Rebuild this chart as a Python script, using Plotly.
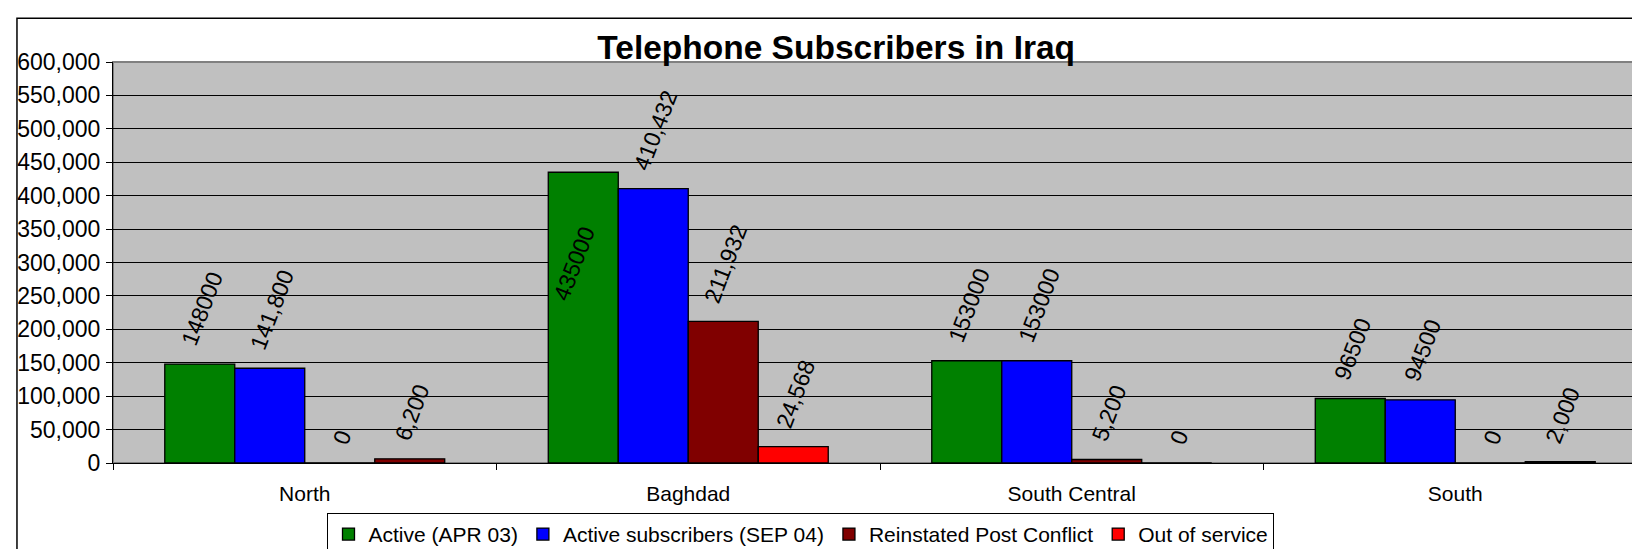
import plotly.graph_objects as go

regions = ["North", "Baghdad", "South Central", "South"]

active_apr03 = [148000, 435000, 153000, 96500]
active_sep04 = [141800, 410432, 153000, 94500]
reinstated = [0, 211932, 5200, 0]
out_of_service = [6200, 24568, 0, 2000]

labels_apr03 = ["148000", "435000", "153000", "96500"]
labels_sep04 = ["141,800", "410,432", "153000", "94500"]
labels_reinstated = ["0", "211,932", "5,200", "0"]
labels_out = ["6,200", "24,568", "0", "2,000"]

# per-point fill colours (the small North / South out-of-service bars are dark red)
colors_apr03 = ["#008000"] * 4
colors_sep04 = ["#0000FF"] * 4
colors_reinstated = ["#800000"] * 4
colors_out = ["#800000", "#FF0000", "#FF0000", "#800000"]

series = [
    ("Active (APR 03)", active_apr03, labels_apr03, colors_apr03, "#008000"),
    ("Active subscribers (SEP 04)", active_sep04, labels_sep04, colors_sep04, "#0000FF"),
    ("Reinstated Post Conflict", reinstated, labels_reinstated, colors_reinstated, "#800000"),
    ("Out of service", out_of_service, labels_out, colors_out, "#FF0000"),
]

FONT = "Liberation Sans, Arial, sans-serif"
NB = "\u00a0"
OUT_TPL = NB * 2 + "%{text}"
IN_TPL = "%{text}" + NB * 8

fig = go.Figure()
for i, (name, vals, labs, cols, legcol) in enumerate(series):
    tp = ["outside"] * len(vals)
    tpl = [OUT_TPL] * len(vals)
    if i == 0:
        tp[1] = "inside"
        tpl[1] = IN_TPL
    fig.add_trace(go.Bar(
        name=name, x=regions, y=vals, text=labs,
        texttemplate=tpl, offsetgroup=str(i), legendrank=i + 1,
        showlegend=False,
        textposition=tp, textangle=-69,
        insidetextanchor="end",
        constraintext="none", cliponaxis=False,
        textfont=dict(family=FONT, size=23, color="#000000"),
        marker=dict(color=cols, line=dict(color="#000000", width=1.3)),
        hoverinfo="skip",
    ))
    # legend entry with the series colour
    fig.add_trace(go.Bar(
        name=name, x=[regions[0]], y=[None], offsetgroup=str(i),
        legendrank=i + 1, showlegend=True,
        marker=dict(color=legcol, line=dict(color="#000000", width=1.3)),
        hoverinfo="skip",
    ))

fig.update_layout(
    width=1640, height=549,
    margin=dict(l=105, r=1, t=54, b=91),
    paper_bgcolor="#FFFFFF",
    plot_bgcolor="#C0C0C0",
    barmode="group", bargap=0.27, bargroupgap=0,
    font=dict(family=FONT, size=21, color="#000000"),
    title=dict(text="<b>Telephone Subscribers in Iraq</b>",
               x=0.505, xref="container", xanchor="center",
               y=0.929, yref="container", yanchor="middle",
               font=dict(family=FONT, size=33.5, color="#000000")),
    legend=dict(orientation="h", x=0.4485, xanchor="center",
                y=-0.178, yanchor="middle",
                bgcolor="#FFFFFF", bordercolor="#000000", borderwidth=1,
                itemwidth=30, font=dict(family=FONT, size=21),
                tracegroupgap=0),
    xaxis=dict(showline=True, linecolor="#000000", linewidth=1,
               ticks="outside", tickson="boundaries", ticklen=6,
               tickcolor="#000000", ticklabelstandoff=12,
               showgrid=False, tickfont=dict(family=FONT, size=21)),
    yaxis=dict(range=[0, 600000], dtick=50000, tickformat=",d",
               showline=True, linecolor="#000000", linewidth=1,
               ticks="outside", ticklen=6, tickcolor="#000000",
               ticklabelstandoff=1,
               showgrid=True, gridcolor="#000000", gridwidth=1,
               zeroline=False, tickfont=dict(family=FONT, size=23)),
    shapes=[
        dict(type="rect", xref="paper", yref="paper", x0=0, x1=1, y0=0, y1=1,
             line=dict(color="#808080", width=2), layer="below"),
        dict(type="rect", xref="paper", yref="paper",
             x0=-0.0626, x1=1.01, y0=-0.218, y1=1.109,
             line=dict(color="#000000", width=1.5), layer="below"),
    ],
)

fig.write_html("out.html")
